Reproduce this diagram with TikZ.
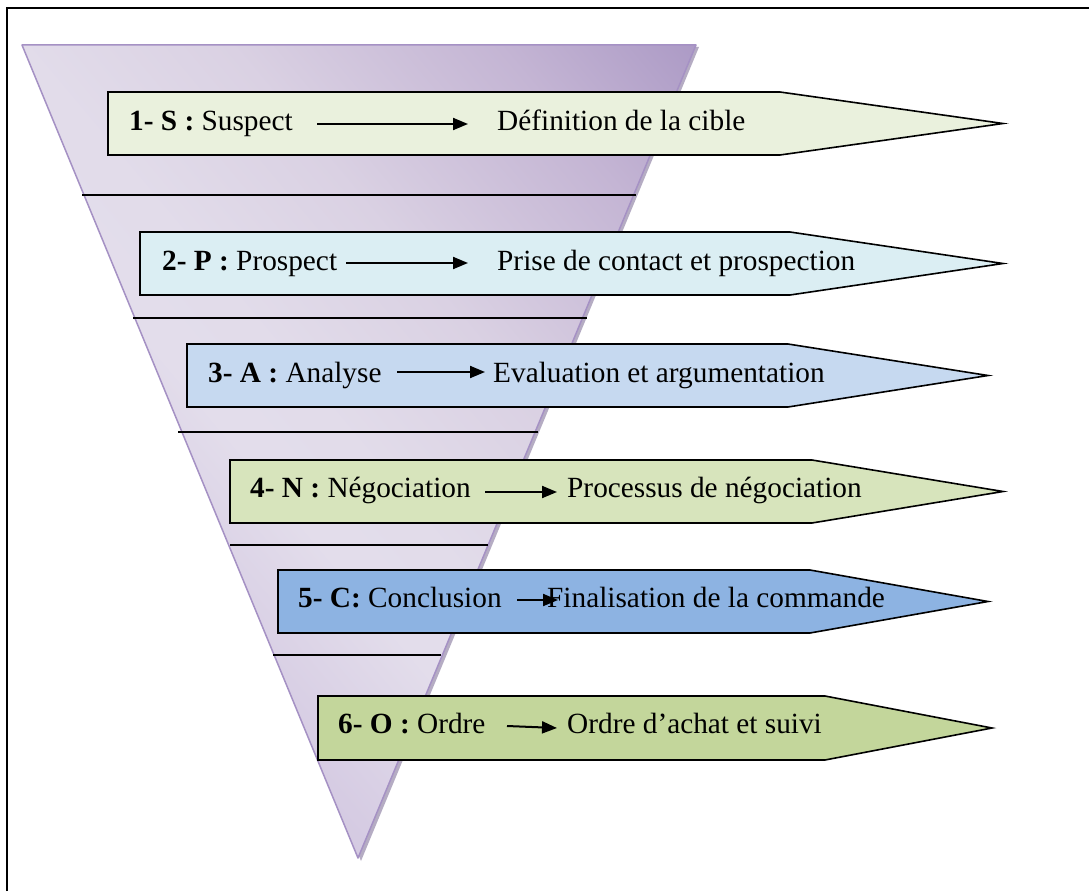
\documentclass[tikz,border=0pt]{standalone}
\usepackage{fontspec}
\setmainfont{Liberation Serif}
\usetikzlibrary{arrows.meta}

\definecolor{funnelEdge}{RGB}{165,145,196}
\definecolor{funnelShadow}{RGB}{150,138,170}
\definecolor{stepS}{RGB}{234,241,221}
\definecolor{stepP}{RGB}{219,238,243}
\definecolor{stepA}{RGB}{198,217,240}
\definecolor{stepN}{RGB}{215,228,188}
\definecolor{stepC}{RGB}{141,179,226}
\definecolor{stepO}{RGB}{195,214,155}

% lavender gradient of the funnel, light at the left, deeper towards the top right
\pgfdeclareverticalshading{funnelshade}{100bp}{%
  rgb(0bp)=(0.800,0.765,0.867);
  rgb(25bp)=(0.808,0.761,0.867);
  rgb(34bp)=(0.839,0.800,0.890);
  rgb(44bp)=(0.890,0.867,0.922);
  rgb(50bp)=(0.886,0.863,0.918);
  rgb(61bp)=(0.855,0.820,0.890);
  rgb(75bp)=(0.769,0.710,0.831);
  rgb(85bp)=(0.678,0.608,0.776);
  rgb(100bp)=(0.647,0.573,0.745)}

\tikzset{
  stagebox/.style={draw=black, line width=1.6pt, line join=miter},
  separator/.style={draw=black, line width=1.5pt},
  lbl/.style={anchor=base west, inner sep=0pt, font=\fontsize{29.3}{35}\selectfont},
  flow/.style={draw=black, line width=2pt, -{Triangle[length=15pt,width=12pt]}},
  frameline/.style={draw=black, line width=2.4pt}
}

\begin{document}
\begin{tikzpicture}[x=1pt,y=-1pt]
\useasboundingbox (0,0) rectangle (1089,891);
\fill[white] (0,0) rectangle (1089,891);

% page frame (top and left rule)
\draw[frameline] (7,891) -- (7,8) -- (1089,8);

% funnel: soft shadow, shaded body, outline
\fill[funnelShadow, opacity=0.7] (25,47) -- (699,47) -- (361,861) -- cycle;
\shade[shading=funnelshade, shading angle=-50]
  (22,45) -- (696,45) -- (358,858) -- cycle;
\draw[funnelEdge, line width=1.5pt, line join=round] (22,45) -- (696,45) -- (358,858) -- cycle;

% funnel separators
\draw[separator] (82,195) -- (636,195);
\draw[separator] (133,318) -- (587,318);
\draw[separator] (178,432) -- (538,432);
\draw[separator] (230,545) -- (488,545);
\draw[separator] (273,655) -- (441,655);

% stage 1
\draw[stagebox, fill=stepS] (108,92) -- (780,92) -- (1003,123.5) -- (780,155) -- (108,155) -- cycle;
\node[lbl] (s1) at (129,130) {\textbf{1- S :} Suspect};
\node[lbl] (d1) at (497,130) {Définition de la cible};
\coordinate (a1s) at (317,124);
\coordinate (a1e) at (468,124);
\draw[flow] (a1s) -- (a1e);

% stage 2
\draw[stagebox, fill=stepP] (140,232) -- (790,232) -- (1003,263.5) -- (790,295) -- (140,295) -- cycle;
\node[lbl] (s2) at (162,270) {\textbf{2- P :} Prospect};
\node[lbl] (d2) at (497,270) {Prise de contact et prospection};
\coordinate (a2s) at (346,263);
\coordinate (a2e) at (468,263);
\draw[flow] (a2s) -- (a2e);

% stage 3
\draw[stagebox, fill=stepA] (187,344) -- (788,344) -- (988,375.5) -- (788,407) -- (187,407) -- cycle;
\node[lbl] (s3) at (208,382) {\textbf{3- A :} Analyse};
\node[lbl] (d3) at (493,382) {Evaluation et argumentation};
\coordinate (a3s) at (397,372);
\coordinate (a3e) at (485,372);
\draw[flow] (a3s) -- (a3e);

% stage 4
\draw[stagebox, fill=stepN] (230,460) -- (812,460) -- (1003,491.5) -- (812,523) -- (230,523) -- cycle;
\node[lbl] (s4) at (250,497) {\textbf{4- N :} Négociation};
\node[lbl] (d4) at (567,497) {Processus de négociation};
\coordinate (a4s) at (485,492);
\coordinate (a4e) at (557,492);
\draw[flow] (a4s) -- (a4e);

% stage 5
\draw[stagebox, fill=stepC] (278,570) -- (810,570) -- (988,601.5) -- (810,633) -- (278,633) -- cycle;
\node[lbl] (s5) at (298,607) {\textbf{5- C:} Conclusion};
\node[lbl] (d5) at (547,607) {Finalisation de la commande};
\coordinate (a5s) at (517,600);
\coordinate (a5e) at (558,600);
\draw[flow] (a5s) -- (a5e);

% stage 6
\draw[stagebox, fill=stepO] (318,696) -- (825,696) -- (992,728) -- (825,760) -- (318,760) -- cycle;
\node[lbl] (s6) at (338,733) {\textbf{6- O :} Ordre};
\node[lbl] (d6) at (567,733) {Ordre d’achat et suivi};
\coordinate (a6s) at (507,726);
\coordinate (a6e) at (557,728);
\draw[flow] (a6s) -- (a6e);
\end{tikzpicture}
\end{document}
